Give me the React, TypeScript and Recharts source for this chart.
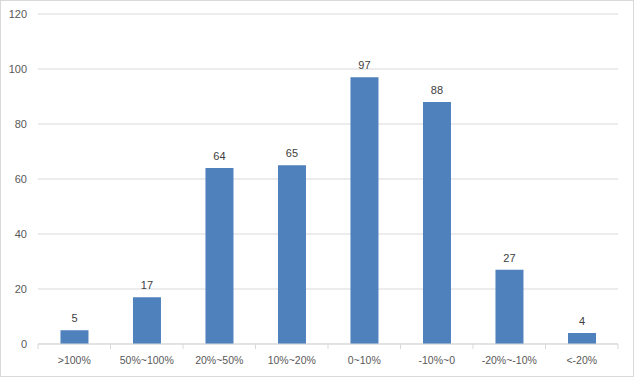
import { BarChart, Bar, XAxis, YAxis, CartesianGrid, LabelList } from 'recharts';

const categories = ['>100%', '50%~100%', '20%~50%', '10%~20%', '0~10%', '-10%~0', '-20%~-10%', '<-20%'];
const counts = [5, 17, 64, 65, 97, 88, 27, 4];
const yTicks = [0, 20, 40, 60, 80, 100, 120];

const data = categories.map((name, i) => ({ name, count: counts[i] }));

const W = 634;
const H = 377;
const M = { top: 14, right: 16, left: 0, bottom: 3 };
const Y_W = 38;
const band = (W - M.left - M.right - Y_W) / categories.length;
const font = '"Liberation Sans", Arial, sans-serif';

// eslint-disable-next-line @typescript-eslint/no-explicit-any
const XTick = ({ x, y, payload, index }: any) => (
  <g>
    <line x1={x - band / 2} x2={x - band / 2} y1={y - 6} y2={y - 1} stroke="#d9d9d9" />
    {index === categories.length - 1 && (
      <line x1={x + band / 2} x2={x + band / 2} y1={y - 6} y2={y - 1} stroke="#d9d9d9" />
    )}
    <text x={x} y={y + 14} textAnchor="middle" fontSize={10.5} fill="#595959" fontFamily={font}>
      {payload.value}
    </text>
  </g>
);

export default function App() {
  return (
    <div style={{ position: 'absolute', left: 0, top: 0, width: W, height: H, background: '#fff' }}>
      <div style={{ position: 'absolute', inset: 0, border: '1px solid #d9d9d9', boxSizing: 'border-box' }} />
      <BarChart width={W} height={H} data={data} margin={M} barCategoryGap="31%">
        <CartesianGrid vertical={false} stroke="#d9d9d9" />
        <XAxis
          dataKey="name"
          height={30}
          axisLine={{ stroke: '#d9d9d9' }}
          tickLine={false}
          tick={<XTick />}
          interval={0}
          tickMargin={0}
        />
        <YAxis
          width={Y_W}
          domain={[0, 120]}
          ticks={yTicks}
          axisLine={false}
          tickLine={false}
          tickMargin={5}
          tick={{ fontSize: 11, fill: '#595959', fontFamily: font }}
        />
        <Bar dataKey="count" fill="#4f81bd" isAnimationActive={false}>
          <LabelList dataKey="count" position="top" offset={8} fontSize={11} fill="#404040" fontFamily={font} />
        </Bar>
      </BarChart>
    </div>
  );
}
